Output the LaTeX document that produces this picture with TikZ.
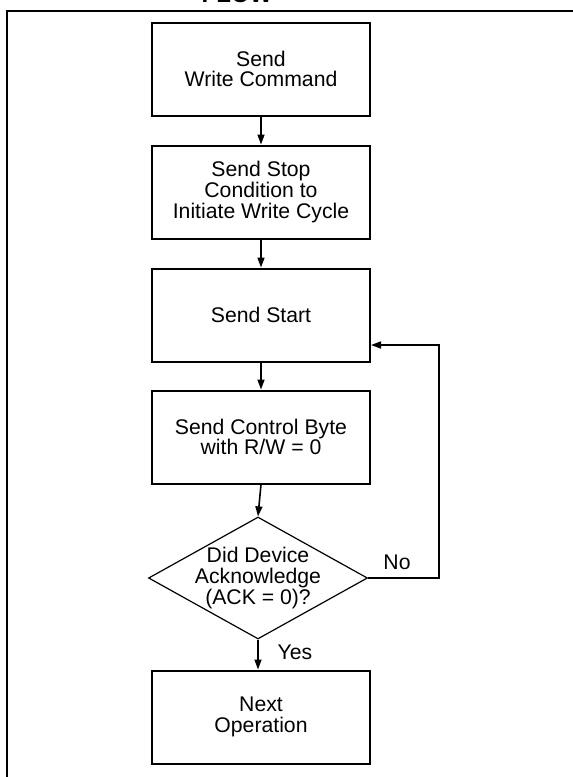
\documentclass[tikz,border=0pt]{standalone}
\usepackage{fontspec}
\setmainfont{Liberation Sans}
\usetikzlibrary{shapes.geometric,arrows.meta}
\tikzset{
  stepbox/.style={draw, line width=1pt, minimum width=109pt, minimum height=46.5pt,
    inner sep=0pt, align=center, font=\fontsize{10.6}{10.3}\selectfont},
  decision/.style={diamond, draw, line width=0.6pt, minimum width=109.5pt,
    minimum height=61pt, inner sep=0pt},
  lab/.style={align=center, font=\fontsize{10.6}{10.3}\selectfont},
  flowarrow/.style={line width=0.8pt, -{Triangle[length=5pt,width=3.5pt]}},
  outline/.style={line width=1pt},
}
\begin{document}
\begin{tikzpicture}[x=0.5pt,y=-0.5pt]
  \useasboundingbox (0,0) rectangle (573,777);
  % frame and title
  \draw[outline] (7,800) -- (7,11) -- (600,11);
  \node[anchor=base, font=\fontsize{12}{12}\selectfont\bfseries] (title) at (237,2.5) {FLOW};
  % steps
  \node[stepbox] (cmd)   at (261,69)  {Send\\Write Command};
  \node[stepbox] (stop)  at (261,192) {Send Stop\\Condition to\\Initiate Write Cycle};
  \node[stepbox] (start) at (261,315) {Send Start};
  \node[stepbox] (ctrl)  at (261,437) {Send Control Byte\\with R/W = 0};
  \node[decision] (ack)  at (258,578) {};
  \node[lab] (acktext) at (ack) {Did Device\\Acknowledge\\(ACK = 0)?};
  \node[stepbox] (next)  at (261,717) {Next\\Operation};
  \coordinate (loop) at (439,345);
  % connectors
  \draw[flowarrow] (cmd) -- (stop);
  \draw[flowarrow] (stop) -- (start);
  \draw[flowarrow] (start) -- (ctrl);
  \draw[flowarrow] (ctrl.south) -- (ack.north);
  \draw[flowarrow] (ack.south) -- (ack.south |- next.north);
  \draw[flowarrow] (ack.east) -| (loop) -- (loop -| start.east);
  \node[lab] (yes) at (295,652) {Yes};
  \node[lab] (no) at (397,562) {No};
\end{tikzpicture}
\end{document}
